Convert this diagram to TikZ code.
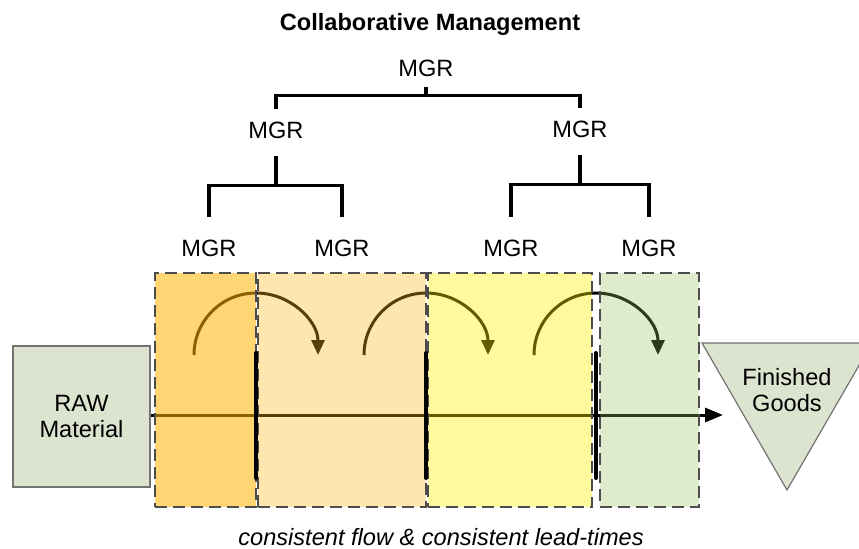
\documentclass[tikz,border=0pt]{standalone}
\usepackage{fontspec}
\setmainfont{Liberation Sans}
\usetikzlibrary{arrows.meta}

\definecolor{stageA}{RGB}{255,180,0}
\definecolor{stageB}{RGB}{254,183,26}
\definecolor{stageC}{RGB}{255,242,0}
\definecolor{stageD}{RGB}{148,190,90}
\definecolor{stockfill}{RGB}{220,227,207}

\tikzset{
  txt/.style={font=\fontsize{11.8}{13.3}\selectfont},
  mgr/.style={txt, inner sep=0pt},
  tree/.style={line width=1.6pt},
  stage/.style={draw=black!70, line width=0.75pt, dash pattern=on 6pt off 3pt,
    minimum height=117pt, inner sep=0pt},
  bar/.style={line width=2pt, line cap=round},
  hop/.style={line width=1.5pt, -{Triangle[length=7.5pt,width=6.5pt]}},
  flow/.style={line width=1.5pt, -{Triangle[length=9pt,width=7pt]}},
  stock/.style={draw=black!55, line width=0.6pt, fill=stockfill},
}

\begin{document}
\begin{tikzpicture}[x=0.5pt, y=-0.5pt]
  \clip (0,0) rectangle (859,548);

  % Title
  \node[txt, font=\fontsize{11.8}{14}\selectfont\bfseries, anchor=base] (title)
     at (430,30) {Collaborative Management};

  % Managers
  \node[mgr] (m0) at (426,68) {MGR};
  \node[mgr] (m1) at (276,130) {MGR};
  \node[mgr] (m2) at (580,129) {MGR};
  \node[mgr] (m3) at (209,248) {MGR};
  \node[mgr] (m4) at (342,248) {MGR};
  \node[mgr] (m5) at (511,248) {MGR};
  \node[mgr] (m6) at (649,248) {MGR};

  % Brackets
  \draw[tree] ([yshift=-5pt]m0.south) -- ++(0,9) -| ([yshift=6pt]m1.north);
  \draw[tree] ([yshift=-5pt]m0.south) -- ++(0,9) -| ([yshift=6pt]m2.north);
  \draw[tree] ([yshift=-8.5pt]m1.south) -- ++(0,30) -| ([yshift=11pt]m3.north);
  \draw[tree] ([yshift=-8.5pt]m1.south) -- ++(0,30) -| ([yshift=11pt]m4.north);
  \draw[tree] ([yshift=-8.5pt]m2.south) -- ++(0,30) -| ([yshift=11pt]m5.north);
  \draw[tree] ([yshift=-8.5pt]m2.south) -- ++(0,30) -| ([yshift=11pt]m6.north);

  % Raw material and finished goods
  \node[stock, txt, align=center, minimum width=68.5pt, minimum height=70.5pt] (raw)
     at (81.5,416.5) {RAW\\Material};
  \filldraw[stock] (702,343) -- (872,343) -- (787,490) -- cycle;
  \node[txt, align=center] (goods) at (787,390) {Finished\\Goods};

  % Flow line and hand-offs (under the stages)
  \coordinate (flowend) at (723,415);
  \draw[flow] (raw.east |- flowend) -- (flowend);
  \draw[hop] (194,355) arc[start angle=180, end angle=0, radius=31pt];
  \draw[hop] (364,355) arc[start angle=180, end angle=0, radius=31pt];
  \draw[hop] (534,355) arc[start angle=180, end angle=0, radius=31pt];

  % Stages
  \node[stage, fill=stageA, fill opacity=0.55, minimum width=50.5pt] (s1) at (205.5,390) {};
  \node[stage, fill=stageB, fill opacity=0.35, minimum width=84pt] (s2) at (342,390) {};
  \node[stage, fill=stageC, fill opacity=0.38, minimum width=82pt] (s3) at (510,390) {};
  \node[stage, fill=stageD, fill opacity=0.31, minimum width=49.5pt] (s4) at (649.5,390) {};

  % Stage walls
  \draw[bar] (256,353) -- (256,478);
  \draw[bar] (426,353) -- (426,478);
  \draw[bar] (596,353) -- (596,478);

  % Caption
  \node[txt, font=\fontsize{11.8}{14}\selectfont\itshape, anchor=base] (caption)
     at (441,545) {consistent flow \& consistent lead-times};
\end{tikzpicture}
\end{document}
